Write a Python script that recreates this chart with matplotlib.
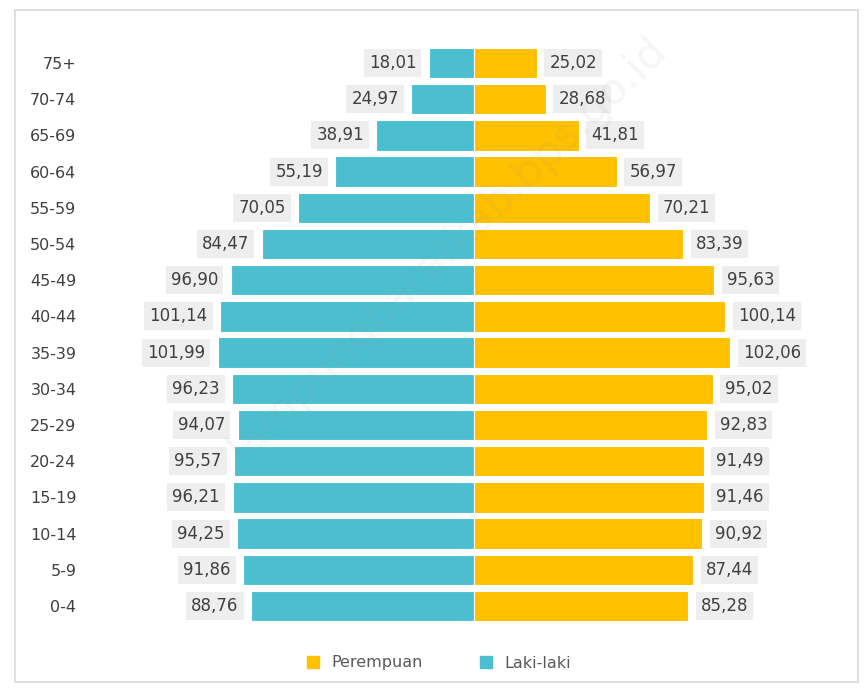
import matplotlib.pyplot as plt
from matplotlib.patches import Rectangle
from matplotlib.lines import Line2D

groups = ["0-4", "5-9", "10-14", "15-19", "20-24", "25-29", "30-34", "35-39",
          "40-44", "45-49", "50-54", "55-59", "60-64", "65-69", "70-74", "75+"]
laki = [88.76, 91.86, 94.25, 96.21, 95.57, 94.07, 96.23, 101.99,
        101.14, 96.90, 84.47, 70.05, 55.19, 38.91, 24.97, 18.01]
perempuan = [85.28, 87.44, 90.92, 91.46, 91.49, 92.83, 95.02, 102.06,
             100.14, 95.63, 83.39, 70.21, 56.97, 41.81, 28.68, 25.02]

teal = "#4bbfcf"
gold = "#ffc000"

fig = plt.figure(figsize=(8.68, 6.9), dpi=100)
fig.patches.append(Rectangle((15/868, 8/690), 843/868, 672/690, transform=fig.transFigure,
                             fill=False, edgecolor="#d9d9d9", linewidth=1.2))
ax = fig.add_axes([100/868, 1 - 626/690, 748/868, 583/690])

y = list(range(len(groups)))
ax.barh(y, [-v for v in laki], height=0.84, color=teal, edgecolor="white", linewidth=0.8)
ax.barh(y, perempuan, height=0.84, color=gold, edgecolor="white", linewidth=0.8)

def fmt(v):
    return f"{v:.2f}".replace(".", ",")

box = dict(boxstyle="square,pad=0.3", facecolor="#eeeeee", edgecolor="none")
for i, (m, f) in enumerate(zip(laki, perempuan)):
    ax.annotate(fmt(m), (-m, i), xytext=(-9, 0), textcoords="offset points",
                ha="right", va="center", fontsize=12, color="#404040", bbox=box)
    ax.annotate(fmt(f), (f, i), xytext=(9, 0), textcoords="offset points",
                ha="left", va="center", fontsize=12, color="#404040", bbox=box)

ax.set_xlim(-149, 149)
ax.set_ylim(-0.55, 15.55)
ax.set_yticks(y)
ax.set_yticklabels(groups, fontsize=11.5, color="#404040")
ax.tick_params(axis="y", length=0, pad=17)
ax.set_xticks([])
for s in ax.spines.values():
    s.set_visible(False)

fig.text(0.515, 0.64, "lampungbaratkab.bps.go.id", rotation=44, fontsize=31,
         color="#999999", alpha=0.09, ha="center", va="center")

handles = [Line2D([], [], marker="s", linestyle="none", markersize=8, color=gold),
           Line2D([], [], marker="s", linestyle="none", markersize=8, color=teal)]
fig.legend(handles, ["Perempuan", "Laki-laki"], loc="center", bbox_to_anchor=(0.5, 1 - 663/690),
           ncol=2, frameon=False, fontsize=11.5, handletextpad=0.1, columnspacing=3,
           labelcolor="#595959")

fig.savefig("out.png", dpi=100)
